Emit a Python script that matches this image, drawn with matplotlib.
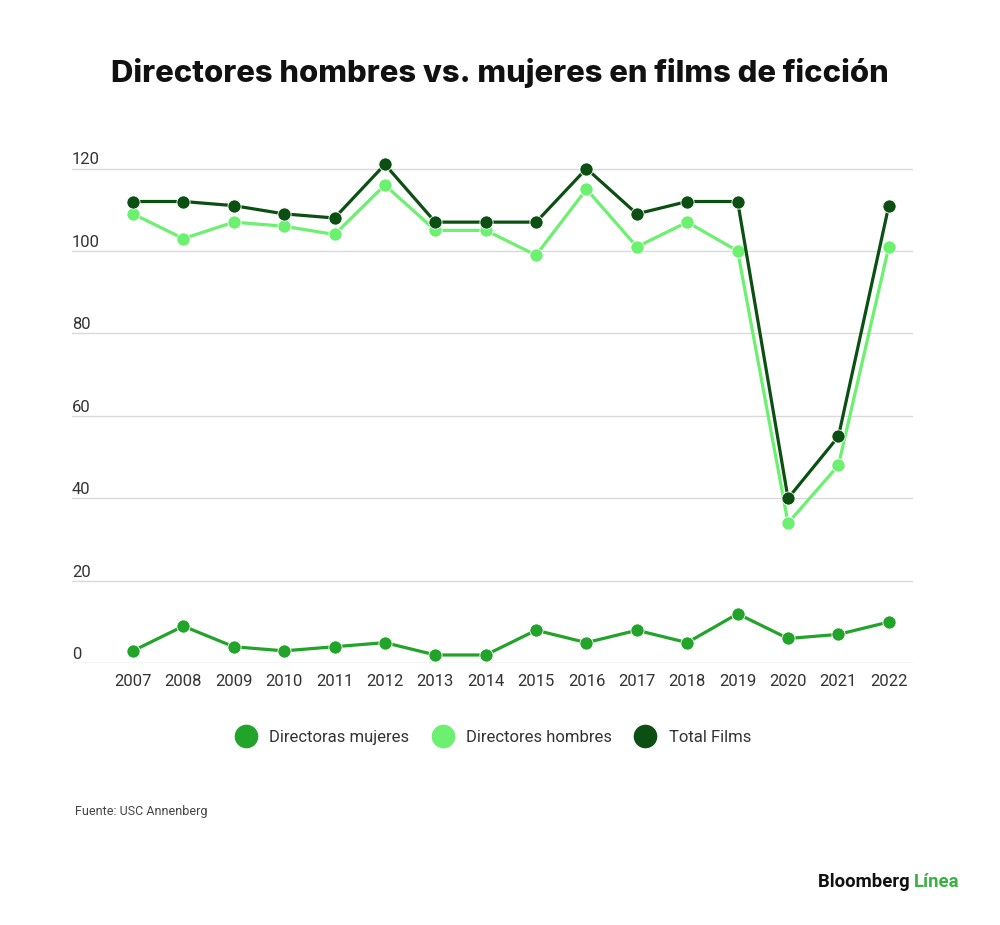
import matplotlib
matplotlib.use('Agg')
import matplotlib.pyplot as plt
from matplotlib.lines import Line2D
import matplotlib.transforms as mtransforms

plt.rcParams['font.family'] = ['Roboto', 'DejaVu Sans']

# data
years = list(range(2007, 2023))
mujeres = [3, 9, 4, 3, 4, 5, 2, 2, 8, 5, 8, 5, 12, 6, 7, 10]
hombres = [109, 103, 107, 106, 104, 116, 105, 105, 99, 115, 101, 107, 100, 34, 48, 101]
total = [112, 112, 111, 109, 108, 121, 107, 107, 107, 120, 109, 112, 112, 40, 55, 111]
y_ticks = [0, 20, 40, 60, 80, 100, 120]

series_names = ['Directoras mujeres', 'Directores hombres', 'Total Films']
colors = ['#22a32a', '#6cf06f', '#0b4f12']

fig = plt.figure(figsize=(10, 9.25), dpi=100)
ax = fig.add_axes([0.072, 0.283, 0.841, 0.566])

for vals, c in zip([mujeres, hombres, total], colors):
    ax.plot(years, vals, color=c, lw=2.3, marker='o', markersize=9.5,
            markeredgecolor='white', markeredgewidth=0.6, zorder=3)

ax.set_xlim(2005.79, 2022.48)
ax.set_ylim(0, 127)
ax.set_xticks(years)
ax.set_xticklabels([str(y) for y in years], fontsize=12, color='#333333')
ax.tick_params(axis='x', length=0, pad=8)
ax.set_yticks([])
for s in ax.spines.values():
    s.set_visible(False)

# gridlines + labels sitting just above them
trans = mtransforms.blended_transform_factory(ax.transAxes, ax.transData)
for t in y_ticks:
    ax.axhline(t, color='#c8c8c8' if t == 0 else '#d9d9d9', lw=1, zorder=1)
    ax.text(0.0, t + 0.3, str(t), transform=trans, ha='left', va='bottom',
            fontsize=12, color='#333333')

fig.text(0.5, 0.921, 'Directores hombres vs. mujeres en films de ficción',
         ha='center', va='center', fontsize=22.3, fontweight='heavy',
         family=['Inter', 'DejaVu Sans'], color='#111111')

handles = [Line2D([], [], linestyle='none', marker='o', markersize=16,
                  markerfacecolor=c, markeredgecolor=c) for c in colors]
fig.legend(handles, series_names, loc='center', bbox_to_anchor=(0.49, 0.203),
           ncol=3, frameon=False, fontsize=12, handletextpad=0.4,
           columnspacing=1.0, labelcolor='#333333')

fig.text(0.075, 0.123, 'Fuente: USC Annenberg', fontsize=9, color='#444444',
         ha='left', va='center')

t1 = fig.text(0.818, 0.047, 'Bloomberg ', fontsize=13.3, fontweight='bold',
              color='#111111', ha='left', va='center')
fig.canvas.draw()
bb = t1.get_window_extent()
fig.text(bb.x1 / fig.bbox.width, 0.047, 'Línea', fontsize=13.3,
         fontweight='bold', color='#3cb043', ha='left', va='center')

fig.savefig('out.png', dpi=100, facecolor='white')
